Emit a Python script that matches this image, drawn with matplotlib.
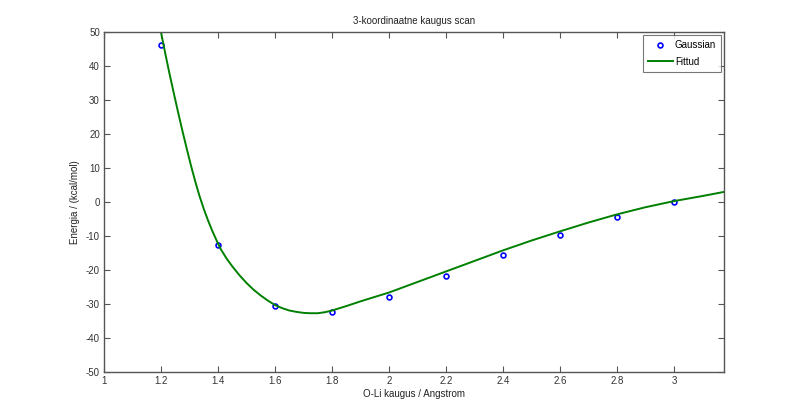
# 3-koordinaatne kaugus scan: Gaussian points + fitted curve

import numpy as np
import matplotlib.pyplot as plt

plt.rcParams['font.family'] = ['Liberation Sans', 'DejaVu Sans']
plt.rcParams['axes.unicode_minus'] = False

# Gaussian scan points
gauss_x = [1.2, 1.4, 1.6, 1.8, 2.0, 2.2, 2.4, 2.6, 2.8, 3.0]
gauss_y = [46.1, -12.7, -30.6, -32.2, -27.9, -21.8, -15.5, -9.7, -4.5, -0.1]

# fitted curve
fit_x = [1.2, 1.215, 1.23, 1.245, 1.26, 1.275, 1.29, 1.305, 1.32, 1.335, 1.35,
         1.365, 1.38, 1.395, 1.41, 1.43, 1.45, 1.475, 1.5, 1.525, 1.55, 1.575,
         1.6, 1.625, 1.65, 1.675, 1.7, 1.725, 1.75, 1.775, 1.8, 1.85, 1.9, 1.95,
         2.0, 2.1, 2.2, 2.3, 2.4, 2.5, 2.6, 2.7, 2.8, 2.9, 3.0, 3.1, 3.175]
fit_y = [50.0, 43.7, 37.7, 32.0, 26.4, 21.0, 15.8, 10.8, 6.1, 1.8, -2.0,
         -5.4, -8.5, -11.3, -13.9, -16.6, -18.9, -21.5, -23.8, -25.8, -27.5, -29.0,
         -30.3, -31.2, -31.9, -32.3, -32.6, -32.7, -32.7, -32.4, -31.9, -30.6, -29.2, -27.9,
         -26.6, -23.5, -20.4, -17.3, -14.2, -11.3, -8.6, -6.0, -3.6, -1.5, 0.3, 1.8, 3.0]

xticks = [1, 1.2, 1.4, 1.6, 1.8, 2, 2.2, 2.4, 2.6, 2.8, 3]
xticklabels = ['1', '1.2', '1.4', '1.6', '1.8', '2', '2.2', '2.4', '2.6', '2.8', '3']
yticks = [-50, -40, -30, -20, -10, 0, 10, 20, 30, 40, 50]

fig = plt.figure(figsize=(8, 4.18), dpi=100)
ax = fig.add_axes([0.13, 0.11, 0.775, 0.813])

ax.plot(gauss_x, gauss_y, 'o', color='#0000ff', markerfacecolor='none',
        markersize=3.5, markeredgewidth=1.2, label='Gaussian')
ax.plot(fit_x, fit_y, '-', color='#008000', linewidth=1.4, label='Fittud')

ax.set_xlim(1, 3.175)
ax.set_ylim(-50, 50)
ax.set_xticks(xticks)
ax.set_xticklabels(xticklabels)
ax.set_yticks(yticks)

grey = '#555555'
for s in ax.spines.values():
    s.set_color(grey)
    s.set_linewidth(1.0)
ax.tick_params(direction='in', length=4, width=0.8, color=grey, labelcolor='#333333',
               labelsize=7, top=True, right=True, pad=3)

ax.set_title('3-koordinaatne kaugus scan', fontsize=7, color='#222222', pad=6)
ax.set_xlabel('O-Li kaugus / Angstrom', fontsize=7, color='#222222', labelpad=2)
ax.set_ylabel('Energia / (kcal/mol)', fontsize=7, color='#222222', labelpad=4)

leg = ax.legend(loc='upper right', fontsize=7, frameon=True, fancybox=False,
                edgecolor=grey, handlelength=2.6, handletextpad=0.2,
                borderaxespad=0.3, labelspacing=0.7, borderpad=0.5)
leg.get_frame().set_linewidth(0.8)

fig.savefig('out.png', dpi=100)
